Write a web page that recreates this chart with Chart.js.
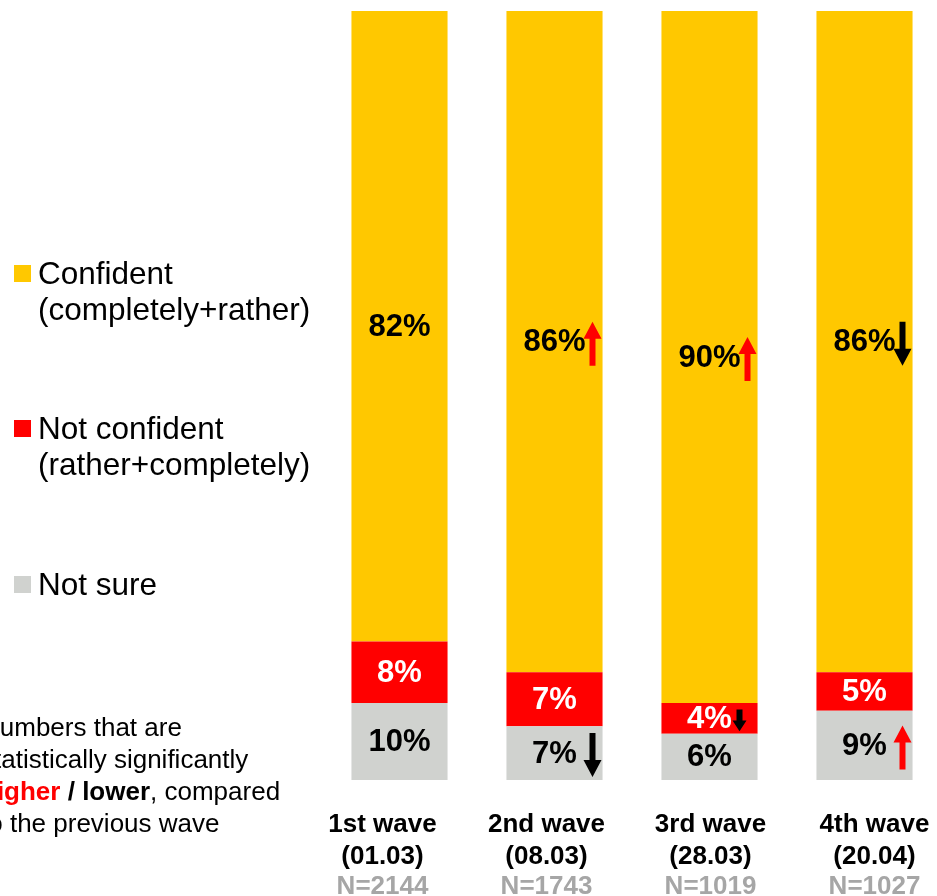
<!DOCTYPE html>
<html>
<head>
<meta charset="utf-8">
<script src="https://cdn.jsdelivr.net/npm/chart.js@4"></script>
<style>
  html, body { margin: 0; padding: 0; background: #fff; overflow: hidden; width: 937px; height: 896px; }
  #wrap { position: absolute; left: 0; top: 0; width: 950px; height: 896px; }
  .legend { position: absolute; left: 14px; font-family: "Liberation Sans", Arial, sans-serif; font-size: 31.5px; line-height: 36px; color: #000; }
  .legend .sw { position: absolute; left: 0; top: 10px; width: 17px; height: 17px; }
  .legend .txt { margin-left: 24px; white-space: nowrap; }
  .note { position: absolute; left: -19px; top: 711px; font-family: "Liberation Sans", Arial, sans-serif; font-size: 26px; line-height: 32px; color: #000; white-space: nowrap; }
  .note .hi { color: #ff0000; font-weight: bold; }
  .note b { font-weight: bold; }
</style>
</head>
<body>
<div id="wrap"><canvas id="chart"></canvas></div>

<div class="legend" style="top:255px"><span class="sw" style="background:#ffc800"></span><div class="txt">Confident<br>(completely+rather)</div></div>
<div class="legend" style="top:410px"><span class="sw" style="background:#ff0000"></span><div class="txt">Not confident<br>(rather+completely)</div></div>
<div class="legend" style="top:566px"><span class="sw" style="background:#d0d2cf"></span><div class="txt">Not sure</div></div>

<div class="note">Numbers that are<br>statistically significantly<br><span class="hi">higher</span> <b>/ lower</b>, compared<br>to the previous wave</div>

<script>
const waves = ["1st wave", "2nd wave", "3rd wave", "4th wave"];
const dates = ["(01.03)", "(08.03)", "(28.03)", "(20.04)"];
const sizes = ["N=2144", "N=1743", "N=1019", "N=1027"];

const notSure = [10, 7, 6, 9];
const notConfident = [8, 7, 4, 5];
const confident = [82, 86, 90, 86];

// change vs previous wave: "up", "down" or null
const sigNotSure = [null, "down", null, "up"];
const sigNotConfident = [null, null, "down", null];
const sigConfident = [null, "up", "up", "down"];

const YELLOW = "#ffc800", RED = "#ff0000", GREY = "#d0d2cf";
const FONT = '"Liberation Sans", Arial, sans-serif';

function arrow(ctx, x, yc, len, dir, color) {
  const head = Math.min(17, len * 0.5), hw = len < 30 ? 7 : 9, sw = 3;
  const top = yc - len / 2, bot = yc + len / 2;
  ctx.fillStyle = color;
  ctx.beginPath();
  if (dir === "up") {
    ctx.moveTo(x, top);
    ctx.lineTo(x + hw, top + head);
    ctx.lineTo(x + sw, top + head);
    ctx.lineTo(x + sw, bot);
    ctx.lineTo(x - sw, bot);
    ctx.lineTo(x - sw, top + head);
    ctx.lineTo(x - hw, top + head);
  } else {
    ctx.moveTo(x, bot);
    ctx.lineTo(x + hw, bot - head);
    ctx.lineTo(x + sw, bot - head);
    ctx.lineTo(x + sw, top);
    ctx.lineTo(x - sw, top);
    ctx.lineTo(x - sw, bot - head);
    ctx.lineTo(x - hw, bot - head);
  }
  ctx.closePath();
  ctx.fill();
}

const labelsPlugin = {
  id: "segLabels",
  afterDatasetsDraw(chart) {
    const ctx = chart.ctx;
    ctx.save();
    ctx.font = "bold 31px " + FONT;
    ctx.textAlign = "center";
    ctx.textBaseline = "middle";
    chart.data.datasets.forEach((ds, di) => {
      const meta = chart.getDatasetMeta(di);
      meta.data.forEach((bar, i) => {
        const yc = (bar.y + bar.base) / 2;
        const h = Math.abs(bar.base - bar.y);
        ctx.fillStyle = ds.labelColor;
        ctx.fillText(ds.data[i] + "%", bar.x, yc + 1);
        const s = ds.sig[i];
        if (s) {
          const len = Math.min(44, h - 9);
          const ax = bar.x + (len < 30 ? 30 : 38);
          arrow(ctx, ax, yc + 2, len, s, s === "up" ? RED : "#000");
        }
      });
    });
    ctx.restore();
  },
  afterDraw(chart) {
    // wave captions sit on a slightly wider pitch than the bars
    const ctx = chart.ctx;
    const x = chart.scales.x;
    ctx.save();
    ctx.font = "bold 26px " + FONT;
    ctx.textAlign = "center";
    ctx.textBaseline = "middle";
    waves.forEach((w, i) => {
      const px = x.getPixelForValue(i) + (i - 1.5) * 9 - 3.5;
      ctx.fillStyle = "#000";
      ctx.fillText(w, px, 825);
      ctx.fillText(dates[i], px, 857);
      ctx.fillStyle = "#a6a6a6";
      ctx.fillText(sizes[i], px, 887);
    });
    ctx.restore();
  }
};

new Chart(document.getElementById("chart"), {
  type: "bar",
  data: {
    labels: waves,
    datasets: [
      { label: "Not sure", data: notSure, backgroundColor: GREY, labelColor: "#000", sig: sigNotSure },
      { label: "Not confident", data: notConfident, backgroundColor: RED, labelColor: "#fff", sig: sigNotConfident },
      { label: "Confident", data: confident, backgroundColor: YELLOW, labelColor: "#000", sig: sigConfident },
    ],
  },
  options: {
    responsive: true,
    maintainAspectRatio: false,
    animation: false,
    datasets: { bar: { categoryPercentage: 1, barPercentage: 0.62, borderWidth: 0 } },
    layout: { padding: { left: 322, right: 8, top: 11, bottom: 116 } },
    plugins: { legend: { display: false }, tooltip: { enabled: false } },
    scales: {
      x: { stacked: true, display: false },
      y: { stacked: true, display: false, min: 0, max: 100 },
    },
  },
  plugins: [labelsPlugin],
});
</script>
</body>
</html>
